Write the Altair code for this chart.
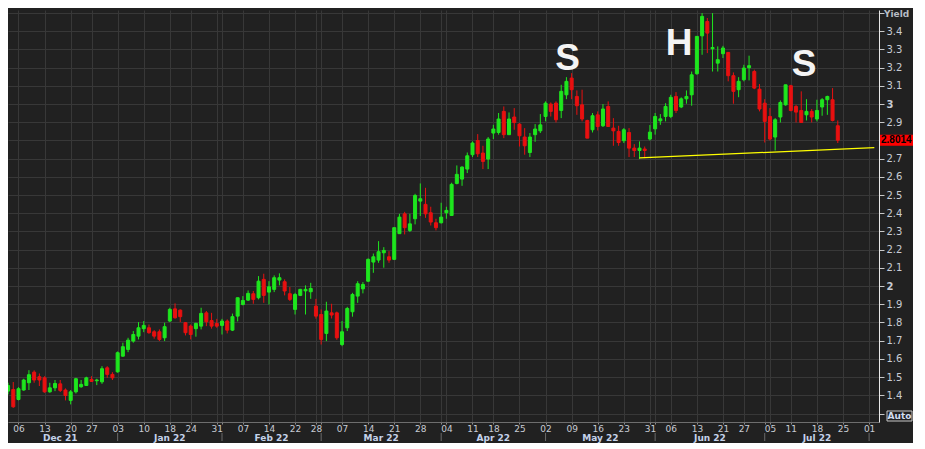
import altair as alt
import pandas as pd

# ---------------- data (US 10y yield, daily candles, Dec 2021 - Jul 2022) ----------------
opens = [1.423, 1.432, 1.377, 1.429, 1.469, 1.527, 1.502, 1.496, 1.419, 1.441,
         1.463, 1.429, 1.372, 1.419, 1.447, 1.454, 1.487, 1.480, 1.474, 1.551,
         1.515, 1.529, 1.615, 1.652, 1.698, 1.725, 1.766, 1.771, 1.749, 1.749,
         1.716, 1.808, 1.875, 1.868, 1.799, 1.780, 1.766, 1.780, 1.853, 1.811,
         1.795, 1.784, 1.808, 1.758, 1.835, 1.899, 1.923, 1.958, 1.936, 2.037,
         1.967, 1.982, 2.033, 2.024, 1.958, 1.872, 1.949, 1.974, 1.969, 1.890,
         1.844, 1.740, 1.853, 1.853, 1.679, 1.771, 1.859, 1.945, 1.985, 2.027,
         2.132, 2.143, 2.183, 2.161, 2.147, 2.288, 2.397, 2.306, 2.370, 2.467,
         2.449, 2.403, 2.348, 2.348, 2.403, 2.388, 2.564, 2.588, 2.643, 2.722,
         2.800, 2.731, 2.698, 2.841, 2.844, 2.960, 2.832, 2.929, 2.890, 2.819,
         2.734, 2.832, 2.853, 2.932, 3.000, 3.005, 2.965, 3.051, 3.143, 3.042,
         2.996, 2.910, 2.859, 2.941, 2.881, 2.987, 2.868, 2.850, 2.799, 2.844,
         2.758, 2.745, 2.753, 2.808, 2.864, 2.908, 2.932, 2.932, 3.042, 2.984,
         3.029, 3.051, 3.167, 3.375, 3.454, 3.304, 3.225, 3.277, 3.284, 3.156,
         3.079, 3.134, 3.200, 3.179, 3.082, 3.005, 2.932, 2.819, 2.929, 2.996,
         3.101, 2.987, 2.965, 2.941, 2.960, 2.918, 2.984, 3.024, 3.024, 2.881]
highs = [1.469, 1.473, 1.445, 1.491, 1.538, 1.537, 1.520, 1.505, 1.469, 1.484,
         1.484, 1.438, 1.429, 1.496, 1.484, 1.502, 1.505, 1.491, 1.560, 1.560,
         1.527, 1.641, 1.689, 1.716, 1.753, 1.802, 1.808, 1.789, 1.758, 1.762,
         1.799, 1.881, 1.905, 1.872, 1.802, 1.789, 1.799, 1.881, 1.863, 1.853,
         1.820, 1.820, 1.817, 1.849, 1.936, 1.945, 1.976, 1.973, 2.055, 2.068,
         2.027, 2.059, 2.070, 2.037, 1.995, 1.963, 1.985, 2.004, 2.018, 1.930,
         1.872, 1.914, 1.903, 1.860, 1.808, 1.886, 1.963, 2.027, 2.022, 2.152,
         2.179, 2.247, 2.214, 2.192, 2.321, 2.397, 2.408, 2.397, 2.507, 2.564,
         2.540, 2.436, 2.370, 2.458, 2.436, 2.568, 2.663, 2.658, 2.734, 2.795,
         2.835, 2.771, 2.819, 2.886, 2.951, 2.987, 2.954, 2.978, 2.896, 2.868,
         2.841, 2.890, 2.945, 3.015, 3.009, 3.015, 3.106, 3.148, 3.170, 3.075,
         3.079, 2.914, 2.951, 2.960, 3.000, 3.015, 2.923, 2.881, 2.868, 2.868,
         2.780, 2.795, 2.767, 2.885, 2.951, 2.945, 3.005, 3.051, 3.066, 3.037,
         3.075, 3.179, 3.372, 3.500, 3.473, 3.500, 3.317, 3.320, 3.284, 3.174,
         3.148, 3.216, 3.266, 3.189, 3.110, 3.027, 2.978, 2.923, 3.020, 3.106,
         3.106, 2.996, 3.070, 3.027, 2.973, 3.024, 3.033, 3.046, 3.088, 2.910]
lows = [1.405, 1.331, 1.372, 1.425, 1.429, 1.469, 1.451, 1.414, 1.414, 1.423,
        1.418, 1.372, 1.350, 1.410, 1.441, 1.451, 1.474, 1.456, 1.463, 1.496,
        1.484, 1.524, 1.612, 1.637, 1.689, 1.707, 1.747, 1.738, 1.711, 1.698,
        1.698, 1.802, 1.821, 1.802, 1.729, 1.707, 1.722, 1.762, 1.780, 1.766,
        1.771, 1.734, 1.740, 1.753, 1.806, 1.894, 1.918, 1.903, 1.927, 1.908,
        1.899, 1.967, 2.004, 1.949, 1.918, 1.844, 1.945, 1.844, 1.930, 1.821,
        1.679, 1.698, 1.822, 1.705, 1.670, 1.753, 1.832, 1.908, 1.960, 2.022,
        2.073, 2.128, 2.101, 2.128, 2.143, 2.288, 2.284, 2.297, 2.339, 2.385,
        2.375, 2.333, 2.306, 2.344, 2.370, 2.385, 2.559, 2.551, 2.621, 2.709,
        2.709, 2.643, 2.643, 2.808, 2.832, 2.813, 2.832, 2.859, 2.767, 2.722,
        2.709, 2.793, 2.841, 2.905, 2.932, 2.899, 2.923, 3.027, 3.027, 2.941,
        2.905, 2.813, 2.844, 2.855, 2.874, 2.874, 2.771, 2.771, 2.786, 2.709,
        2.709, 2.698, 2.703, 2.800, 2.832, 2.886, 2.905, 2.923, 2.951, 2.978,
        3.002, 2.991, 3.161, 3.271, 3.280, 3.179, 3.179, 3.253, 3.125, 3.002,
        3.038, 3.125, 3.130, 3.082, 2.960, 2.789, 2.800, 2.745, 2.899, 2.991,
        2.960, 2.899, 2.899, 2.910, 2.899, 2.905, 2.936, 2.941, 2.905, 2.786]
closes = [1.454, 1.337, 1.436, 1.484, 1.513, 1.484, 1.484, 1.419, 1.441, 1.465,
          1.427, 1.399, 1.419, 1.491, 1.460, 1.496, 1.476, 1.484, 1.546, 1.515,
          1.496, 1.634, 1.667, 1.703, 1.734, 1.771, 1.784, 1.744, 1.725, 1.707,
          1.777, 1.872, 1.826, 1.832, 1.744, 1.734, 1.795, 1.850, 1.804, 1.780,
          1.780, 1.808, 1.758, 1.832, 1.936, 1.921, 1.960, 1.927, 2.027, 1.949,
          1.996, 2.046, 2.046, 1.973, 1.927, 1.954, 1.982, 1.982, 1.987, 1.835,
          1.707, 1.863, 1.841, 1.716, 1.749, 1.877, 1.954, 2.013, 2.009, 2.147,
          2.161, 2.189, 2.196, 2.143, 2.321, 2.379, 2.321, 2.342, 2.498, 2.480,
          2.397, 2.352, 2.321, 2.379, 2.416, 2.559, 2.614, 2.654, 2.716, 2.786,
          2.727, 2.685, 2.808, 2.863, 2.918, 2.832, 2.918, 2.899, 2.826, 2.771,
          2.819, 2.863, 2.886, 3.005, 2.960, 2.914, 3.070, 3.125, 3.079, 2.991,
          2.918, 2.813, 2.936, 2.877, 2.973, 2.877, 2.853, 2.789, 2.859, 2.758,
          2.745, 2.758, 2.745, 2.846, 2.932, 2.919, 2.987, 3.037, 2.965, 3.029,
          3.042, 3.161, 3.372, 3.482, 3.390, 3.311, 3.244, 3.308, 3.156, 3.070,
          3.125, 3.198, 3.211, 3.088, 2.973, 2.905, 2.808, 2.914, 3.009, 3.106,
          2.965, 2.956, 2.899, 2.960, 2.929, 2.965, 3.024, 3.042, 2.910, 2.8014]

# trading-day index of each tick and its label
week_ticks = [2, 7, 12, 16, 21, 26, 31, 35, 40, 45, 50, 55, 59, 64, 69, 74, 79, 84,
              89, 93, 98, 103, 108, 113, 118, 123, 127, 132, 137, 141, 146, 150,
              155, 160, 165]
week_labels = ["06", "13", "20", "27", "03", "10", "18", "24", "31", "07", "14",
               "22", "28", "07", "14", "21", "28", "04", "11", "18", "25", "02",
               "09", "16", "23", "31", "06", "13", "21", "27", "05", "11", "18",
               "25", "01"]
month_starts = [21, 41, 60, 83, 103, 124, 145, 165]
month_mid = [10, 31, 50.5, 71.5, 93, 113.5, 134.5, 155]
month_names = ["Dec 21", "Jan 22", "Feb 22", "Mar 22", "Apr 22", "May 22",
               "Jun 22", "Jul 22"]
y_ticks = [1.3, 1.4, 1.5, 1.6, 1.7, 1.8, 1.9, 2.0, 2.1, 2.2, 2.3, 2.4, 2.5,
           2.6, 2.7, 2.8, 2.9, 3.0, 3.1, 3.2, 3.3, 3.4, 3.5]

neck_x = [121, 166]
neck_y = [2.704, 2.761]

hs_x = [107.2, 128.6, 152.55]
hs_y = [3.190, 3.268, 3.154]
hs_text = ["S", "H", "S"]

# ---------------- styling ----------------
BG = "#212121"
GRID = "#383838"
GREEN = "#1ee61e"
RED = "#e81010"
LABEL = "#c8ccd4"

df = pd.DataFrame({"i": list(range(len(opens))), "open": opens, "high": highs,
                   "low": lows, "close": closes})
df["dir"] = ["up" if c >= o else "down" for o, c in zip(opens, closes)]

xscale = alt.Scale(domain=[0.947, 165.94], nice=False, zero=False)
yscale = alt.Scale(domain=[1.2533, 3.517], nice=False, zero=False)

all_x_ticks = sorted(set(week_ticks + month_starts))
wk = ",".join(str(v) for v in week_ticks)
lb = ",".join("'" + s + "'" for s in week_labels)
x_label_expr = f"indexof([{wk}], datum.value) >= 0 ? [{lb}][indexof([{wk}], datum.value)] : ''"

xaxis = alt.Axis(values=all_x_ticks, labelExpr=x_label_expr, title=None, grid=True,
                 gridColor=GRID, gridWidth=1, tickSize=2, tickColor="#8a8a8a",
                 domainColor="#6e6e6e", labelFont="DejaVu Sans", labelFontSize=9,
                 labelColor=LABEL, labelPadding=0, labelOverlap=False,
                 labelFlush=False, labelBound=False)
yaxis = alt.Axis(orient="right", values=y_ticks, title=None, grid=True,
                 gridColor=GRID, gridWidth=1, tickSize=5, tickColor="#c8c8c8",
                 domainColor="#e8e8e8",
                 labelExpr="(datum.value < 1.35 || datum.value > 3.45 || abs(datum.value - 2.8) < 0.01) ? '' : format(datum.value, '.1~f')",
                 labelFont="DejaVu Sans", labelFontSize=10, labelColor=LABEL,
                 labelFontWeight={"condition": {"test": "datum.value == 2 || datum.value == 3",
                                                "value": "bold"}, "value": "normal"},
                 labelPadding=2, labelOverlap=False, labelFlush=False, labelBound=False)


def X(field):
    return alt.X(field, scale=xscale, axis=xaxis)


def Y(field):
    return alt.Y(field, scale=yscale, axis=yaxis)


color = alt.Color("dir:N", scale=alt.Scale(domain=["up", "down"], range=[GREEN, RED]),
                  legend=None)

base = alt.Chart(df)
wicks = base.mark_rule(strokeWidth=1, clip=True).encode(
    x=X("i:Q"), y=Y("low:Q"), y2="high:Q", color=color)
bodies = base.mark_bar(size=3, strokeWidth=1, clip=True).encode(
    x=X("i:Q"), y=Y("open:Q"), y2="close:Q", color=color, stroke=color)

neck = alt.Chart(pd.DataFrame({"x": neck_x, "y": neck_y})).mark_line(
    color="#ffff00", strokeWidth=1.3, clip=True).encode(x=X("x:Q"), y=Y("y:Q"))

hs_df = pd.DataFrame({"x": hs_x, "y": hs_y, "t": hs_text})
hs = alt.Chart(hs_df).mark_text(
    font="Liberation Sans", fontWeight="bold", fontSize=37, align="center",
    baseline="alphabetic", color="#f4f4f4").encode(x=X("x:Q"), y=Y("y:Q"), text="t:N")

month_df = pd.DataFrame({"x": month_mid, "t": month_names})
months = alt.Chart(month_df).mark_text(
    font="DejaVu Sans", fontWeight="bold", fontSize=9, color="#c4d2ea",
    baseline="middle", align="center").encode(
    x=X("x:Q"), y=alt.value(427.5), text="t:N")
msep = alt.Chart(pd.DataFrame({"x": month_starts})).mark_rule(
    color="#6a6a6a", strokeWidth=1).encode(
    x=X("x:Q"), y=alt.value(423), y2=alt.value(431))

last_df = pd.DataFrame({"y": [closes[-1]], "t": [f"{closes[-1]:.4f}"]})
last_box = alt.Chart(last_df).mark_point(
    shape="M0,-0.34H2V0.34H0Z", size=1089, filled=True, fill="#ff0000",
    strokeWidth=0, opacity=1).encode(x=alt.value(872), y=Y("y:Q"))
last_txt = alt.Chart(last_df).mark_text(
    font="Liberation Sans", fontWeight="bold", fontSize=10, color="#000000",
    align="left", baseline="middle").encode(
    x=alt.value(873), y=Y("y:Q"), text="t:N")

yield_txt = alt.Chart(pd.DataFrame({"t": ["Yield"]})).mark_text(
    font="DejaVu Sans", fontWeight="bold", fontSize=9, color="#b8bcc4",
    align="left", baseline="top").encode(
    x=alt.value(876), y=alt.value(0), text="t:N")

auto_box = alt.Chart(pd.DataFrame({"a": [1]})).mark_rect(
    fill=BG, stroke="#c8c8c8", strokeWidth=1).encode(
    x=alt.value(879), x2=alt.value(904), y=alt.value(401), y2=alt.value(411))
auto_txt = alt.Chart(pd.DataFrame({"t": ["Auto"]})).mark_text(
    font="DejaVu Sans", fontWeight="bold", fontSize=9, color="#d0dcf0",
    align="center", baseline="middle").encode(
    x=alt.value(891.5), y=alt.value(406), text="t:N")

chart = alt.layer(
    wicks, bodies, neck, hs, months, msep, last_box, last_txt,
    yield_txt, auto_box, auto_txt
).properties(
    width=871, height=412, padding=0, background=BG
).configure_view(
    strokeWidth=0
)

chart.save("out.html", embed_options={"renderer": "svg", "actions": False})
